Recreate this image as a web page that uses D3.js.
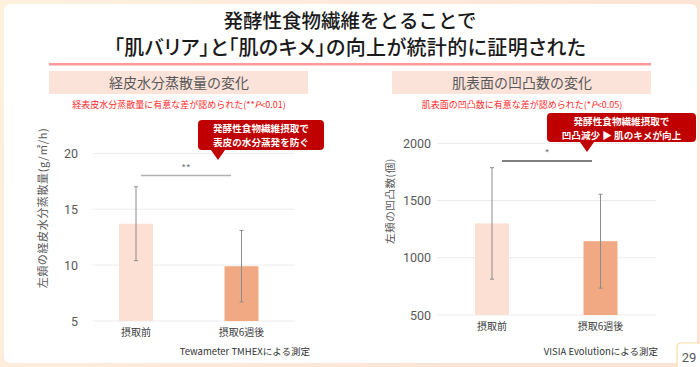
<!DOCTYPE html>
<html><head><meta charset="utf-8">
<script src="https://cdn.jsdelivr.net/npm/d3@7"></script>
<style>
html,body{margin:0;padding:0;background:#fff;}
svg{display:block;font-family:"Noto Sans CJK JP","Noto Sans",sans-serif;}
.palt{font-feature-settings:"palt";}
</style></head>
<body><svg id="c" width="700" height="367"></svg>
<script>
// ---- data ----
const categories = ["摂取前", "摂取6週後"];
const tewlMean = [13.7, 9.9];
const tewlSD = [3.3, 3.2];
const tewlTicks = [5, 10, 15, 20];
const bumpMean = [1300, 1145];
const bumpSD = [487, 410];
const bumpTicks = [500, 1000, 1500, 2000];
const barColors = ["#fce0d3", "#f1a983"];

const svg = d3.select("#c");
const defs = svg.append("defs");
const g = defs.append("linearGradient").attr("id","bg").attr("x1","0").attr("x2","1").attr("y1","0").attr("y2","0.3");
g.append("stop").attr("offset","0").attr("stop-color","#fdf1de");
g.append("stop").attr("offset","0.5").attr("stop-color","#fde9da");
g.append("stop").attr("offset","1").attr("stop-color","#fde3d3");
svg.append("rect").attr("width",700).attr("height",367).attr("fill","url(#bg)");
svg.append("rect").attr("x",4).attr("y",4).attr("width",693).attr("height",359).attr("rx",6).attr("fill","#fff");

// title
svg.append("text").attr("x",350).attr("y",28).attr("text-anchor","middle").attr("font-size",19.5).attr("font-weight",500).attr("fill","#1a1a1a").text("発酵性食物繊維をとることで");
svg.append("text").attr("class","palt").attr("x",350).attr("y",55).attr("text-anchor","middle").attr("font-size",20).attr("letter-spacing",0.4).attr("font-weight",500).attr("fill","#1a1a1a").text("「肌バリア」と「肌のキメ」の向上が統計的に証明された");
svg.append("rect").attr("x",49).attr("y",63).attr("width",602).attr("height",2.5).attr("fill","#ff9a9a");

function panel(o){
  // header
  svg.append("rect").attr("x",o.hx).attr("y",71).attr("width",259).attr("height",23).attr("fill","#fce3d9");
  svg.append("text").attr("x",o.hx+130).attr("y",88).attr("text-anchor","middle").attr("font-size",14).attr("fill","#595959").text(o.head);
  const sub = svg.append("text").attr("x",o.hx+130).attr("y",108).attr("text-anchor","middle").attr("font-size",9).attr("fill","#ff2a2a");
  sub.append("tspan").text(o.sub1);
  sub.append("tspan").attr("font-style","italic").text("P");
  sub.append("tspan").text(o.sub2);

  const y = d3.scaleLinear().domain(o.domain).range([o.y0,o.y1]);
  const x = d3.scalePoint().domain(categories).range(o.xr);
  const bw = 34;
  // grid
  svg.append("g").selectAll("line").data(o.ticks).join("line")
    .attr("x1",o.gx[0]).attr("x2",o.gx[1]).attr("y1",d=>y(d)).attr("y2",d=>y(d))
    .attr("stroke","#ececec").attr("stroke-width",1);
  // y axis labels via d3 axis
  const ax = svg.append("g").attr("transform",`translate(${o.gx[0]-4},0)`)
    .call(d3.axisLeft(y).tickValues(o.ticks).tickFormat(d3.format("d")).tickSize(0).tickPadding(o.pad));
  ax.select(".domain").remove();
  ax.selectAll("text").attr("font-size",12.5).attr("fill","#595959").attr("font-family","Roboto,'Noto Sans',sans-serif");
  // bars
  svg.append("g").selectAll("rect").data(o.mean).join("rect")
    .attr("x",(d,i)=>x(categories[i])-bw/2).attr("width",bw)
    .attr("y",d=>y(d)).attr("height",d=>y(o.domain[0])-y(d))
    .attr("fill",(d,i)=>barColors[i]);
  // error bars
  const eb = svg.append("g").attr("stroke","#8c8c8c").attr("stroke-width",1);
  o.mean.forEach((m,i)=>{
    const cx = x(categories[i]);
    eb.append("line").attr("x1",cx).attr("x2",cx).attr("y1",y(m+o.sd[i])).attr("y2",y(m-o.sd[i]));
    eb.append("line").attr("x1",cx-2).attr("x2",cx+2).attr("y1",y(m+o.sd[i])).attr("y2",y(m+o.sd[i]));
    eb.append("line").attr("x1",cx-2).attr("x2",cx+2).attr("y1",y(m-o.sd[i])).attr("y2",y(m-o.sd[i]));
  });
  // category labels
  svg.append("g").selectAll("text").data(categories).join("text")
    .attr("x",d=>x(d)).attr("y",o.y0+15).attr("text-anchor","middle").attr("font-size",10).attr("fill","#404040").text(d=>d);
  // y title
  svg.append("text").attr("transform",`translate(${o.tx},${o.ty}) rotate(-90)`).attr("text-anchor","middle")
    .attr("font-size",o.tfs).attr("letter-spacing",0.6).attr("fill","#595959").text(o.ytitle);
  // significance
  svg.append("line").attr("x1",o.sig[0]).attr("x2",o.sig[1]).attr("y1",o.sig[2]).attr("y2",o.sig[2]).attr("stroke",o.sigColor).attr("stroke-width",1.5);
  svg.append("text").attr("x",(o.sig[0]+o.sig[1])/2).attr("y",o.sig[2]-4).attr("text-anchor","middle").attr("font-size",10).attr("fill","#777").text(o.star);
  // callout
  const c = o.call, p = d3.path(), r = 4;
  p.moveTo(c.x+r,c.y);
  p.lineTo(c.x+c.w-r,c.y); p.arcTo(c.x+c.w,c.y,c.x+c.w,c.y+r,r);
  p.lineTo(c.x+c.w,c.y+c.h-r); p.arcTo(c.x+c.w,c.y+c.h,c.x+c.w-r,c.y+c.h,r);
  p.lineTo(c.tx+7,c.y+c.h); p.lineTo(c.tx,c.ty); p.lineTo(c.tx-7,c.y+c.h);
  p.lineTo(c.x+r,c.y+c.h); p.arcTo(c.x,c.y+c.h,c.x,c.y+c.h-r,r);
  p.lineTo(c.x,c.y+r); p.arcTo(c.x,c.y,c.x+r,c.y,r);
  p.closePath();
  svg.append("path").attr("d",p.toString()).attr("fill","#c00000");
  c.lines.forEach((t,i)=>{
    svg.append("text").attr("x",c.x+c.w/2).attr("y",c.y+11.5+i*14).attr("text-anchor","middle")
      .attr("font-size",9.6).attr("font-weight",700).attr("fill","#fff").text(t);
  });
  // note
  svg.append("text").attr("x",o.note[0]).attr("y",o.note[1]).attr("text-anchor","end").attr("font-size",9.5).attr("fill","#333").text(o.noteText);
}

panel({hx:49, head:"経皮水分蒸散量の変化", sub1:"経表皮水分蒸散量に有意な差が認められた(**", sub2:"<0.01)",
  domain:[5,20], y0:321, y1:153.3, xr:[136,241.5], gx:[92,295], pad:10, ticks:tewlTicks,
  mean:tewlMean, sd:tewlSD, tx:47, ty:208, tfs:11, ytitle:"左頬の経皮水分蒸散量(g/㎡/h)",
  sig:[141,231,175.5], sigColor:"#b0b0b0", star:"**",
  call:{x:198,y:120,w:126,h:30,tx:218,ty:160,lines:["発酵性食物繊維摂取で","表皮の水分蒸発を防ぐ"]},
  note:[310,355], noteText:"Tewameter TMHEXによる測定"});

panel({hx:392, head:"肌表面の凹凸数の変化", sub1:"肌表面の凹凸数に有意な差が認められた(*", sub2:"<0.05)",
  domain:[500,2000], y0:315, y1:143.3, xr:[492,600.5], gx:[437,656], pad:2, ticks:bumpTicks,
  mean:bumpMean, sd:bumpSD, tx:394, ty:201, tfs:10.5, ytitle:"左頬の凹凸数(個)",
  sig:[502,592,161], sigColor:"#555", star:"*",
  call:{x:547,y:113,w:149,h:29,tx:587,ty:152,lines:["発酵性食物繊維摂取で","凹凸減少 ▶ 肌のキメが向上"]},
  note:[658,355], noteText:"VISIA Evolutionによる測定"});

// page number
svg.append("rect").attr("x",677).attr("y",343).attr("width",30).attr("height",30).attr("rx",4).attr("fill","#fff").attr("stroke","#fbdca6").attr("stroke-width",1.2);
svg.append("text").attr("x",689).attr("y",362).attr("text-anchor","middle").attr("font-size",13).attr("fill","#595959").attr("font-family","Roboto,sans-serif").text("29");
</script></body></html>
